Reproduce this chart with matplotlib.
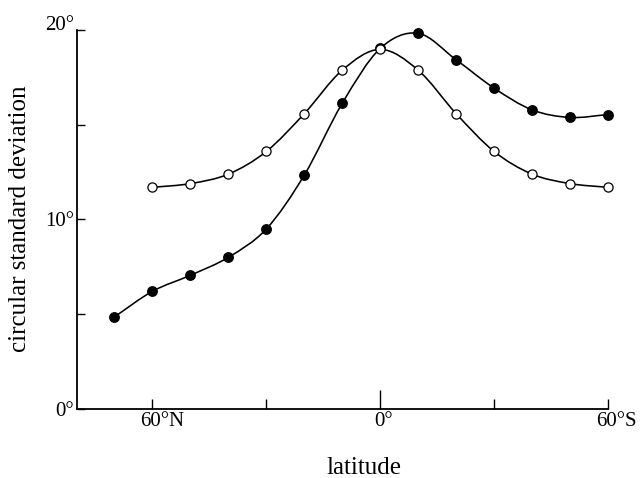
import numpy as np
import matplotlib
matplotlib.use("Agg")
import matplotlib.pyplot as plt
from matplotlib.path import Path
from matplotlib.patches import PathPatch

plt.rcParams['font.family'] = ['Liberation Serif', 'DejaVu Serif']

# latitude: north negative, south positive
lat_filled = [-70, -60, -50, -40, -30, -20, -10, 0, 10, 20, 30, 40, 50, 60]
sd_filled = [4.85, 6.2, 7.05, 8.0, 9.5, 12.35, 16.15, 19.05, 19.85, 18.45, 16.95, 15.8, 15.4, 15.55]
lat_open = [-60, -50, -40, -30, -20, -10, 0, 10, 20, 30, 40, 50, 60]
sd_open = [11.7, 11.9, 12.4, 13.6, 15.6, 17.9, 19.0, 17.9, 15.6, 13.6, 12.4, 11.9, 11.7]

xticks = [-60, -30, 0, 30, 60]
xtick_labels = ['60°N', '', '0°', '', '60°S']
yticks = [0, 5, 10, 15, 20]
ytick_labels = ['0°', '', '10°', '', '20°']


def smooth_path(x, y):
    # Catmull-Rom curve through the points, as cubic bezier segments
    pts = np.column_stack([x, y]).astype(float)
    ext = np.vstack([2 * pts[0] - pts[1], pts, 2 * pts[-1] - pts[-2]])
    verts = [pts[0]]
    codes = [Path.MOVETO]
    for i in range(len(pts) - 1):
        p0, p1, p2, p3 = ext[i], ext[i + 1], ext[i + 2], ext[i + 3]
        verts += [p1 + (p2 - p0) / 6, p2 - (p3 - p1) / 6, p2]
        codes += [Path.CURVE4] * 3
    return Path(verts, codes)


fig = plt.figure(figsize=(6.4, 4.78), dpi=100)
ax = fig.add_axes([76.5 / 640, (478 - 408.5) / 478, (608 - 76.5) / 640, (408.5 - 30.5) / 478])

for x, y in [(lat_filled, sd_filled), (lat_open, sd_open)]:
    ax.add_patch(PathPatch(smooth_path(x, y), fill=False, lw=1.15, ec='black', clip_on=False, zorder=2))

ax.plot(lat_filled, sd_filled, 'o', ms=6.8, mfc='black', mec='black', clip_on=False, zorder=3)
ax.plot(lat_open, sd_open, 'o', ms=6.6, mfc='white', mec='black', mew=0.9, clip_on=False, zorder=3)

ax.set_xlim(-80, 60)
ax.set_ylim(0, 20)
for s in ['top', 'right']:
    ax.spines[s].set_visible(False)
for s in ['left', 'bottom']:
    ax.spines[s].set_linewidth(1.3)

ax.set_yticks(yticks)
ax.set_yticklabels(ytick_labels, fontsize=15)
ax.tick_params(axis='y', direction='in', length=6, width=1, pad=2)
ax.get_yticklabels()[-1].set_va('baseline')

ax.set_xticks(xticks)
ax.set_xticklabels([''] * len(xticks))
ax.tick_params(axis='x', direction='in', length=7.5, width=1)
ax.xaxis.get_major_ticks()[2].tick1line.set_markersize(14)

for xt, lab in zip(xticks, xtick_labels):
    if lab:
        dx = -6 if lab == '0°' else -12
        ax.annotate(lab, xy=(xt, 0), xycoords=('data', 'axes fraction'),
                    xytext=(dx, -4), textcoords='offset pixels',
                    ha='left', va='top', fontsize=15)

fig.text(364 / 640, 3.5 / 478, 'latitude', ha='center', va='baseline', fontsize=18)
fig.text(20 / 640, 1 - 219 / 478, 'circular standard deviation', rotation=90,
         ha='center', va='center', fontsize=18)

fig.savefig('out.png', dpi=100)
